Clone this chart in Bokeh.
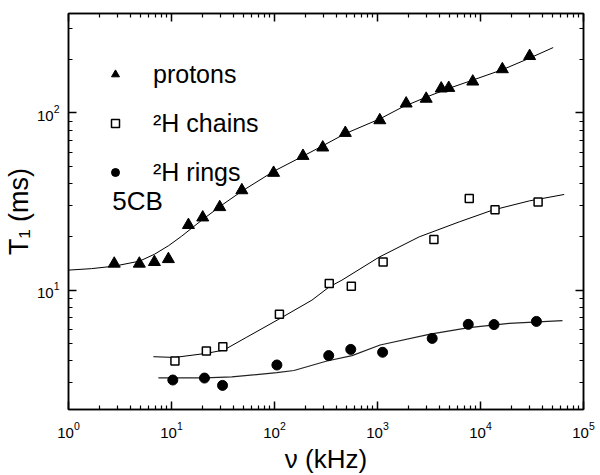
from bokeh.plotting import figure
from bokeh.models import (LogAxis, FixedTicker, LogTickFormatter, Legend, LegendItem,
                          Label, Range1d, CustomJSTickFormatter)
from bokeh.embed import file_html
from bokeh.resources import INLINE

# ---------------- data ----------------
proton_f = [2.78, 4.87, 6.82, 9.33, 14.6, 20.1, 29.4, 48.2, 98.0, 189, 294, 487,
            1053, 1898, 2970, 4157, 4918, 8414, 16300, 29980]
proton_t1 = [14.1, 14.1, 14.4, 14.96, 23.3, 25.7, 29.4, 36.6, 45.9, 57.2, 63.8, 77.1,
             90.9, 113, 120.2, 137.3, 138.4, 150.3, 176.4, 209.4]

chain_f = [10.8, 21.8, 31.5, 111.6, 340, 557, 1134, 3530, 7780, 13840, 36240]
chain_t1 = [3.98, 4.54, 4.79, 7.32, 10.9, 10.5, 14.4, 19.3, 32.9, 28.4, 31.4]

ring_f = [10.3, 20.9, 31.3, 105.5, 336, 550, 1121, 3396, 7605, 13530, 34900]
ring_t1 = [3.11, 3.19, 2.90, 3.78, 4.27, 4.63, 4.46, 5.34, 6.41, 6.39, 6.66]

# fitted curves
proton_fit_f = [1.0, 1.67, 2.80, 4.91, 6.86, 9.39, 12.57, 19.67, 30.78, 48.2, 98.7, 184.7,
                289, 484, 1060, 1735, 3038, 4972, 8323, 16300, 29830, 50750]
proton_fit_t1 = [12.97, 13.22, 13.66, 14.58, 15.96, 17.83, 20.17, 24.82, 30.16, 36.17, 46.9,
                 56.6, 64.9, 76.3, 92.7, 107.7, 123.4, 137.8, 152.9, 175.3, 203.5, 233.8]

chain_fit_f = [6.67, 10.74, 22.0, 32.2, 53.9, 110.4, 231, 338, 452, 1036, 2539, 6220,
               13030, 29830, 64920]
chain_fit_t1 = [4.21, 4.17, 4.40, 4.59, 5.43, 6.86, 8.78, 10.4, 11.39, 15.35, 19.98, 24.28,
                28.26, 31.89, 34.66]

ring_fit_f = [7.46, 21.0, 38.5, 105.5, 154.4, 323, 566, 1060, 3249, 7727, 18930, 62480]
ring_fit_t1 = [3.20, 3.20, 3.24, 3.42, 3.52, 3.98, 4.27, 4.90, 5.65, 6.14, 6.49, 6.73]

x_major = [1, 10, 100, 1000, 10000, 100000]
x_minor = [m * 10 ** k for k in range(0, 5) for m in range(2, 10)]
y_major = [1, 10, 100, 1000]
y_minor = [m * 10 ** k for k in range(0, 3) for m in range(2, 10)]

FONT = "Liberation Sans"

p = figure(x_axis_type="log", y_axis_type="log",
           x_range=Range1d(1, 1e5), y_range=Range1d(2.12, 364),
           frame_width=515, frame_height=396,
           min_border_left=67, min_border_right=18, min_border_top=13, min_border_bottom=66,
           output_backend="svg", toolbar_location=None)
p.xgrid.visible = False
p.ygrid.visible = False
p.outline_line_color = "black"
p.outline_line_width = 1.5

# fit lines
p.line(proton_fit_f, proton_fit_t1, line_color="black", line_width=1)
p.line(chain_fit_f, chain_fit_t1, line_color="black", line_width=1)
p.line(ring_fit_f, ring_fit_t1, line_color="#222222", line_width=1.2)

r_p = p.scatter(proton_f, proton_t1, marker="triangle", size=12,
                fill_color="black", line_color="black")
r_c = p.scatter(chain_f, chain_t1, marker="square", size=8,
                fill_color="white", line_color="black", line_width=1.5)
r_r = p.scatter(ring_f, ring_t1, marker="circle", size=10,
                fill_color="black", line_color="black")


def style_axis(ax, show_labels):
    ax.axis_line_width = 1.5
    ax.axis_line_color = "black"
    ax.major_tick_in = 8
    ax.major_tick_out = 0
    ax.minor_tick_in = 4
    ax.minor_tick_out = 0
    ax.major_tick_line_width = 1.5
    ax.minor_tick_line_width = 1.2
    ax.major_tick_line_color = "black"
    ax.minor_tick_line_color = "black"
    if show_labels:
        ax.major_label_text_font = FONT
        ax.major_label_text_font_size = "15px"
        ax.major_label_text_color = "black"
    else:
        ax.formatter = CustomJSTickFormatter(code="return ' '")
        ax.major_label_text_font_size = "1px"
        ax.major_label_text_alpha = 0
        ax.major_label_standoff = 0


xt = FixedTicker(ticks=x_major, minor_ticks=x_minor)
yt = FixedTicker(ticks=y_major, minor_ticks=y_minor)

xa = p.xaxis[0]
xa.ticker = xt
xa.formatter = LogTickFormatter()
style_axis(xa, True)
xa.major_label_standoff = 12
xa.axis_label = "ν (kHz)"
xa.axis_label_text_font = FONT
xa.axis_label_text_font_size = "26px"
xa.axis_label_text_font_style = "normal"
xa.axis_label_text_color = "black"
xa.axis_label_standoff = 3

ya = p.yaxis[0]
ya.ticker = yt
ya.formatter = LogTickFormatter()
style_axis(ya, True)
ya.major_label_standoff = 9
ya.axis_label = "T₁ (ms)"
ya.axis_label_text_font = FONT
ya.axis_label_text_font_size = "27px"
ya.axis_label_text_font_style = "normal"
ya.axis_label_text_color = "black"
ya.axis_label_standoff = 0

top = LogAxis(ticker=FixedTicker(ticks=x_major, minor_ticks=x_minor))
style_axis(top, False)
p.add_layout(top, "above")
right = LogAxis(ticker=FixedTicker(ticks=y_major, minor_ticks=y_minor))
style_axis(right, False)
p.add_layout(right, "right")

legend = Legend(items=[LegendItem(label="protons", renderers=[r_p]),
                       LegendItem(label="²H chains", renderers=[r_c]),
                       LegendItem(label="²H rings", renderers=[r_r])],
                location="top_left", margin=37, padding=0, spacing=1,
                glyph_width=20, glyph_height=48, label_height=48,
                label_standoff=28,
                label_text_font=FONT, label_text_font_size="25px",
                label_text_color="black",
                border_line_color=None, background_fill_alpha=0)
p.add_layout(legend, "center")

p.add_layout(Label(x=2.66, y=32.0, text="5CB", text_font=FONT, text_font_size="26px",
                   text_baseline="alphabetic", text_color="black"))

open("out.html", "w").write(file_html(p, INLINE))
